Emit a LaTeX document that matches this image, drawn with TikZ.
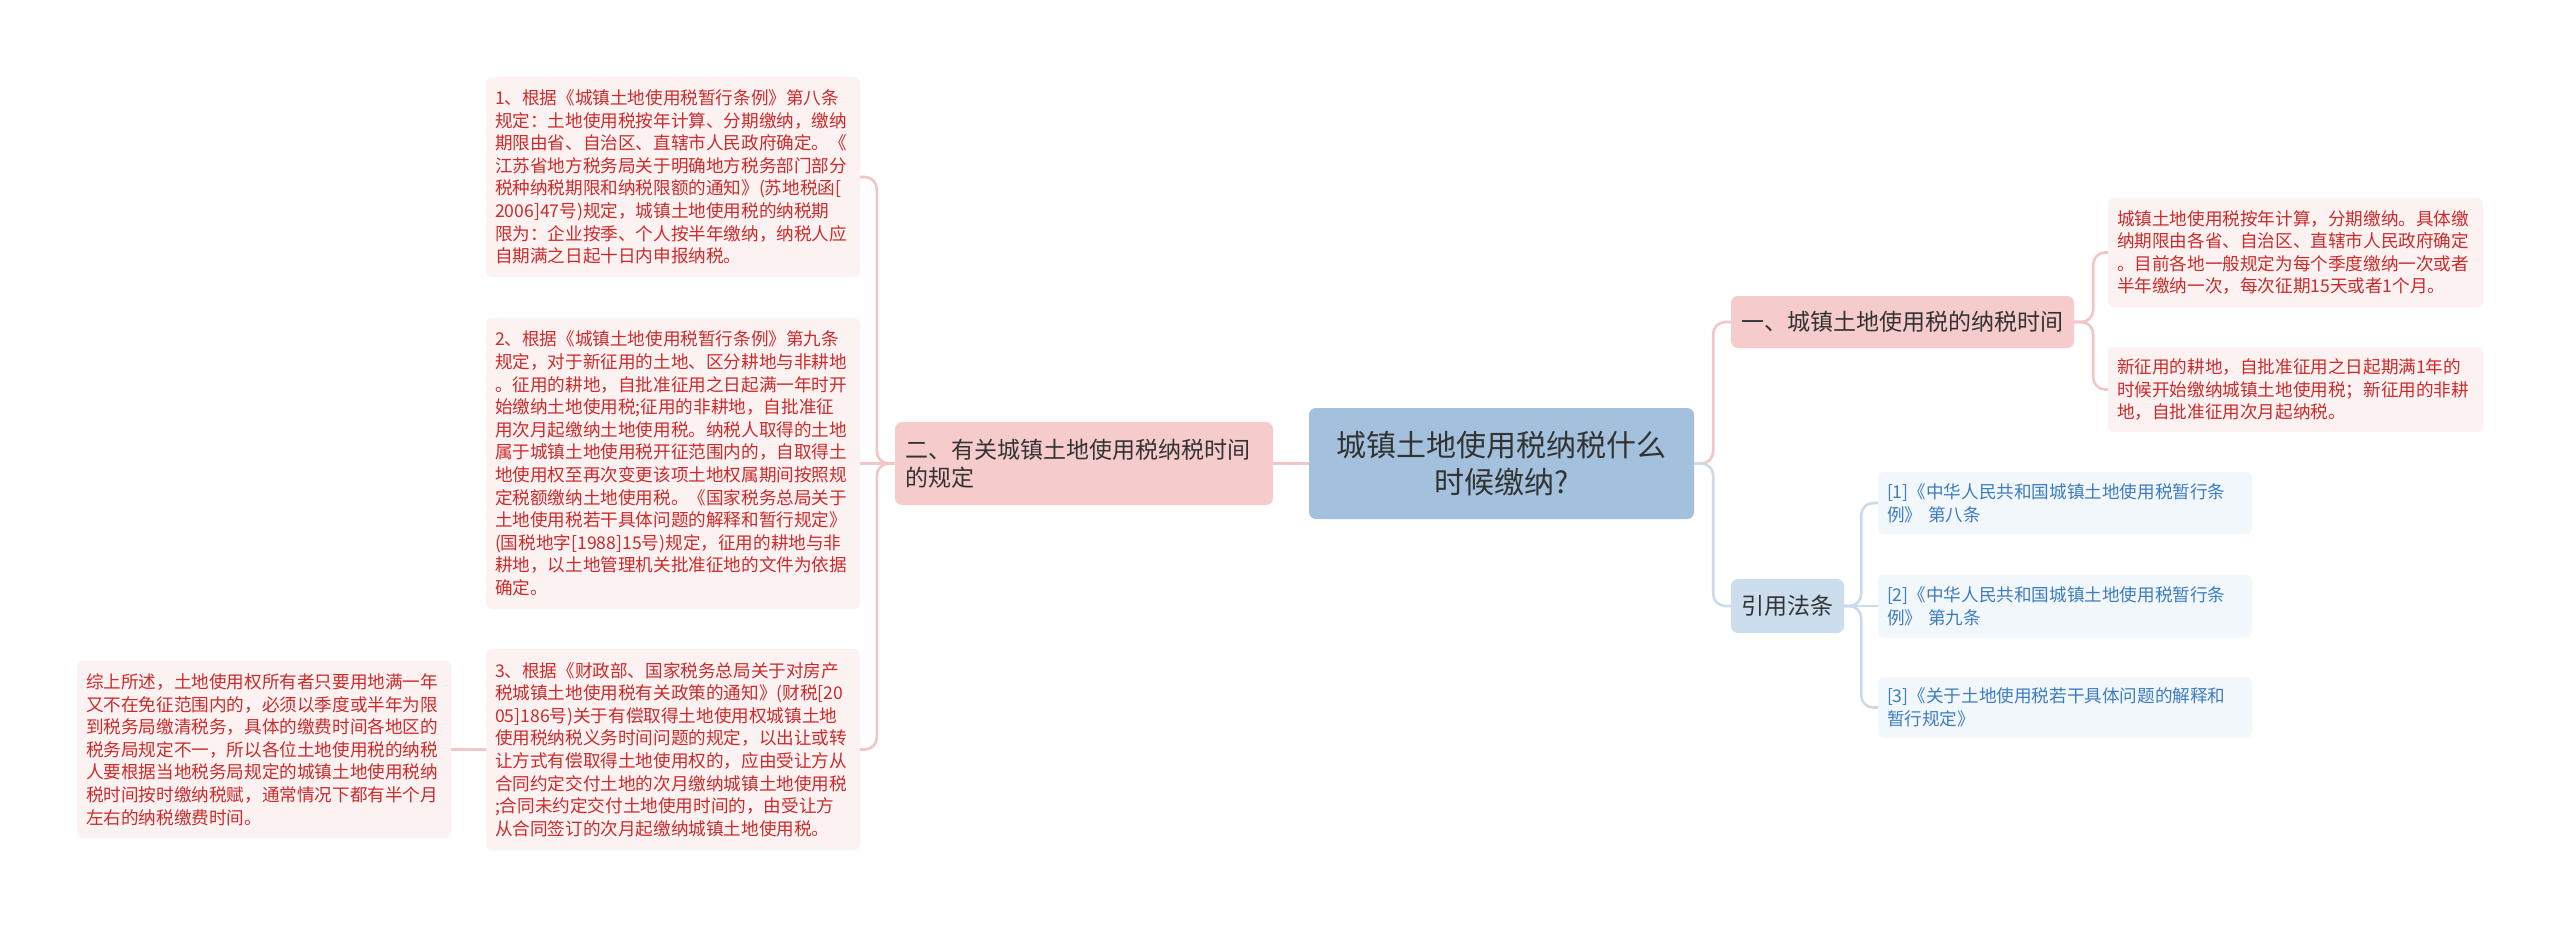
\documentclass[tikz,border=0pt]{standalone}
\usepackage{fontspec}
\newfontfamily\cjk{Noto Sans CJK SC}
\definecolor{rootfill}{HTML}{A3C1DC}
\definecolor{pinkfill}{HTML}{F6CBCC}
\definecolor{bluefill}{HTML}{CCDDEE}
\definecolor{leaffill}{HTML}{FDF2F2}
\definecolor{leaftext}{HTML}{CC2B2B}
\definecolor{reffill}{HTML}{F2F7FC}
\definecolor{reftext}{HTML}{3E7CC0}
\definecolor{darktext}{HTML}{333333}
\definecolor{pinkline}{HTML}{F0C6C6}
\definecolor{blueline}{HTML}{CCDBEA}
\tikzset{
  box/.style={rounded corners=7pt, inner ysep=0pt, inner xsep=9pt, align=left},
  rootbox/.style={box, fill=rootfill, text=darktext, align=center, font=\cjk\fontsize{30}{37}\selectfont},
  pinkbranch/.style={box, fill=pinkfill, text=darktext, inner xsep=10pt, font=\cjk\fontsize{23}{28}\selectfont},
  bluebranch/.style={box, fill=bluefill, text=darktext, inner xsep=10pt, font=\cjk\fontsize{23}{28}\selectfont},
  leaf/.style={box, rounded corners=6pt, fill=leaffill, text=leaftext, font=\cjk\fontsize{17.6}{22.6}\selectfont},
  refleaf/.style={box, rounded corners=6pt, fill=reffill, text=reftext, font=\cjk\fontsize{17.6}{23}\selectfont},
  pinkconn/.style={draw=pinkline, line width=2.6pt, rounded corners=12pt},
  blueconn/.style={draw=blueline, line width=2.6pt, rounded corners=12pt},
}
\begin{document}
\begin{tikzpicture}[x=1pt,y=-1pt]
\fill[white] (0,0) rectangle (2560,927);
\useasboundingbox (0,0) rectangle (2560,927);

% root
\node[rootbox, text width=367pt, minimum height=111pt] (root) at (1501.5,463.5)
  {城镇土地使用税纳税什么\\时候缴纳?};

% left branch
\node[pinkbranch, text width=358pt, minimum height=83pt] (b2) at (1084,463.5)
  {二、有关城镇土地使用税纳税时间\\的规定};

\node[leaf, text width=356pt, minimum height=200pt] (l1) at (673,177)
  {1、根据《城镇土地使用税暂行条例》第八条\\
规定：土地使用税按年计算、分期缴纳，缴纳\\
期限由省、自治区、直辖市人民政府确定。《\\
江苏省地方税务局关于明确地方税务部门部分\\
税种纳税期限和纳税限额的通知》(苏地税函[\\
2006]47号)规定，城镇土地使用税的纳税期\\
限为：企业按季、个人按半年缴纳，纳税人应\\
自期满之日起十日内申报纳税。};

\node[leaf, text width=356pt, minimum height=291pt] (l2) at (673,463.5)
  {2、根据《城镇土地使用税暂行条例》第九条\\
规定，对于新征用的土地、区分耕地与非耕地\\
。征用的耕地，自批准征用之日起满一年时开\\
始缴纳土地使用税;征用的非耕地，自批准征\\
用次月起缴纳土地使用税。纳税人取得的土地\\
属于城镇土地使用税开征范围内的，自取得土\\
地使用权至再次变更该项土地权属期间按照规\\
定税额缴纳土地使用税。《国家税务总局关于\\
土地使用税若干具体问题的解释和暂行规定》\\
(国税地字[1988]15号)规定，征用的耕地与非\\
耕地，以土地管理机关批准征地的文件为依据\\
确定。};

\node[leaf, text width=356pt, minimum height=201pt] (l3) at (673,749.5)
  {3、根据《财政部、国家税务总局关于对房产\\
税城镇土地使用税有关政策的通知》(财税[20\\
05]186号)关于有偿取得土地使用权城镇土地\\
使用税纳税义务时间问题的规定，以出让或转\\
让方式有偿取得土地使用权的，应由受让方从\\
合同约定交付土地的次月缴纳城镇土地使用税\\
;合同未约定交付土地使用时间的，由受让方\\
从合同签订的次月起缴纳城镇土地使用税。};

\node[leaf, text width=356pt, minimum height=177pt] (l4) at (264,749.5)
  {综上所述，土地使用权所有者只要用地满一年\\
又不在免征范围内的，必须以季度或半年为限\\
到税务局缴清税务，具体的缴费时间各地区的\\
税务局规定不一，所以各位土地使用税的纳税\\
人要根据当地税务局规定的城镇土地使用税纳\\
税时间按时缴纳税赋，通常情况下都有半个月\\
左右的纳税缴费时间。};

% right branches
\node[pinkbranch, text width=323pt, minimum height=52pt] (b1) at (1902.5,322)
  {一、城镇土地使用税的纳税时间};
\node[bluebranch, text width=93pt, minimum height=54pt] (b3) at (1787.5,606)
  {引用法条};

\node[leaf, text width=357pt, minimum height=109pt] (r1) at (2295.5,252.5)
  {城镇土地使用税按年计算，分期缴纳。具体缴\\
纳期限由各省、自治区、直辖市人民政府确定\\
。目前各地一般规定为每个季度缴纳一次或者\\
半年缴纳一次，每次征期15天或者1个月。};
\node[leaf, text width=357pt, minimum height=85pt] (r2) at (2295.5,389.5)
  {新征用的耕地，自批准征用之日起期满1年的\\
时候开始缴纳城镇土地使用税；新征用的非耕\\
地，自批准征用次月起纳税。};

\node[refleaf, text width=356pt, minimum height=62pt] (f1) at (2065,503)
  {[1]《中华人民共和国城镇土地使用税暂行条\\例》 第八条};
\node[refleaf, text width=356pt, minimum height=63pt] (f2) at (2065,606)
  {[2]《中华人民共和国城镇土地使用税暂行条\\例》 第九条};
\node[refleaf, text width=356pt, minimum height=61pt] (f3) at (2065,707.5)
  {[3]《关于土地使用税若干具体问题的解释和\\暂行规定》};

% connectors
\draw[pinkconn] (root.west) -- (b2.east);
\draw[pinkconn] (b2.west) -- ++(-18,0) |- (l1.east);
\draw[pinkconn] (b2.west) -- (l2.east);
\draw[pinkconn] (b2.west) -- ++(-18,0) |- (l3.east);
\draw[pinkconn] (l3.west) -- (l4.east);

\draw[pinkconn] (root.east) -- ++(19,0) |- (b1.west);
\draw[blueconn] (root.east) -- ++(19,0) |- (b3.west);
\draw[pinkconn] (b1.east) -- ++(19,0) |- (r1.west);
\draw[pinkconn] (b1.east) -- ++(19,0) |- (r2.west);
\draw[blueconn] (b3.east) -- ++(17,0) |- (f1.west);
\draw[blueconn] (b3.east) -- (f2.west);
\draw[blueconn] (b3.east) -- ++(17,0) |- (f3.west);
\end{tikzpicture}
\end{document}
